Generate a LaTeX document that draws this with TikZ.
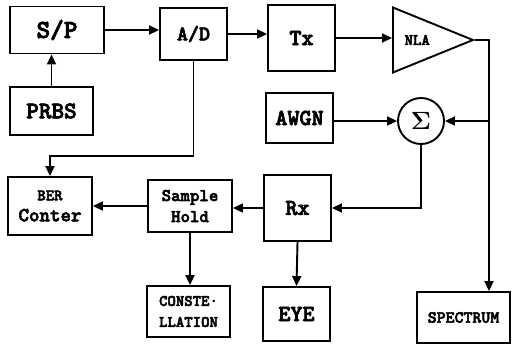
\documentclass[tikz,border=0pt]{standalone}
\usepackage[no-math]{fontspec}
\newfontfamily\blkfont{lmmonolt10-bold.otf}[FakeBold=3]
\usepackage{tikz}
\usetikzlibrary{
  shapes.geometric,
  arrows.meta,
  positioning,
  calc
}
\tikzset{
  blk/.style={
    draw, line width=1.9pt, align=center, inner sep=1pt
  },
  fs/.style={
    font=\blkfont\fontsize{#1}{#1}\selectfont
  },
  arr/.style={
    -{Triangle[length=10pt, width=9pt]}, line width=1.9pt
  },
  wire/.style={
    line width=1.9pt
  },
}

\begin{document}
\begin{tikzpicture}[x=1pt, y=-1pt]
\useasboundingbox (0,0) rectangle (513,345);

% ── Transmitter chain ────────────────────────────────────────────────────────
\node[blk, fs=26, minimum width=94pt, minimum height=47pt] (sp) at (57,30) {S/P};
\node[blk, fs=21, minimum width=67pt, minimum height=52pt] (ad) at (193.5,34) {A/D};
\node[blk, fs=23, minimum width=67pt, minimum height=66pt] (tx) at (301.5,38) {Tx};
\node[blk, fs=24, minimum width=83pt, minimum height=48pt] (prbs) at (51.5,111) {PRBS};

\node[draw, line width=1.9pt, isosceles triangle, isosceles triangle stretches,
      shape border rotate=0, minimum width=65pt, minimum height=80pt,
      inner sep=0pt, anchor=lower side, fs=16] (nla) at (392,40) {NLA};

% ── Channel ──────────────────────────────────────────────────────────────────
\node[blk, fs=23, minimum width=67pt, minimum height=50pt] (awgn) at (299.5,118) {AWGN};
\node[draw, circle, line width=1.9pt, minimum size=46pt, inner sep=0pt,
      font=\fontsize{24}{24}\selectfont] (sum) at (421,121) {$\mathbf{\Sigma}$};
\coordinate (tap) at (489,121);

% ── Receiver side ────────────────────────────────────────────────────────────
\node[blk, fs=23, minimum width=67pt, minimum height=66pt] (rx) at (297.5,208) {Rx};
\node[blk, fs=18, minimum width=84pt, minimum height=52pt] (sh) at (190,206) {Sample\\[3pt]Hold};
\node[blk, fs=20, minimum width=84pt, minimum height=58pt] (ber) at (50,206)
  {{\fontsize{16}{16}\selectfont BER}\\[1pt]Conter};
\node[blk, fs=16, minimum width=83pt, minimum height=51pt] (const) at (188.5,311.5)
  {CONSTE·\\[5pt]LLATION};
\node[blk, fs=23, minimum width=67pt, minimum height=54pt] (eye) at (296.5,314) {EYE};
\node[blk, fs=17, minimum width=93pt, minimum height=51pt] (spectrum) at (463.5,317.5) {SPECTRUM};

% ── Connectors ───────────────────────────────────────────────────────────────
\draw[arr] (sp.east)    -- (sp.east -| ad.west);
\draw[arr] (ad.east)    -- (ad.east -| tx.west);
\draw[arr] (tx.east)    -- (tx.east -| nla.lower side);
\draw[arr] (prbs.north) -- (prbs.north |- sp.south);
\draw[arr] (ad.south)   -- ++(0,95) -| (ber.north);

\draw[wire] (nla.apex) -| (tap);
\draw[arr]  (tap) -- (sum.east);
\draw[arr]  (tap) -- (tap |- spectrum.north);
\draw[arr]  (awgn.east |- sum.west) -- (sum.west);

\draw[arr] (sum.south) |- (rx.east);
\draw[arr] (rx.west)   -- (rx.west -| sh.east);
\draw[arr] (sh.west)   -- (sh.west -| ber.east);
\draw[arr] (sh.south)  -- (sh.south |- const.north);
\draw[arr] (rx.south)  -- (eye.north);

\end{tikzpicture}
\end{document}
